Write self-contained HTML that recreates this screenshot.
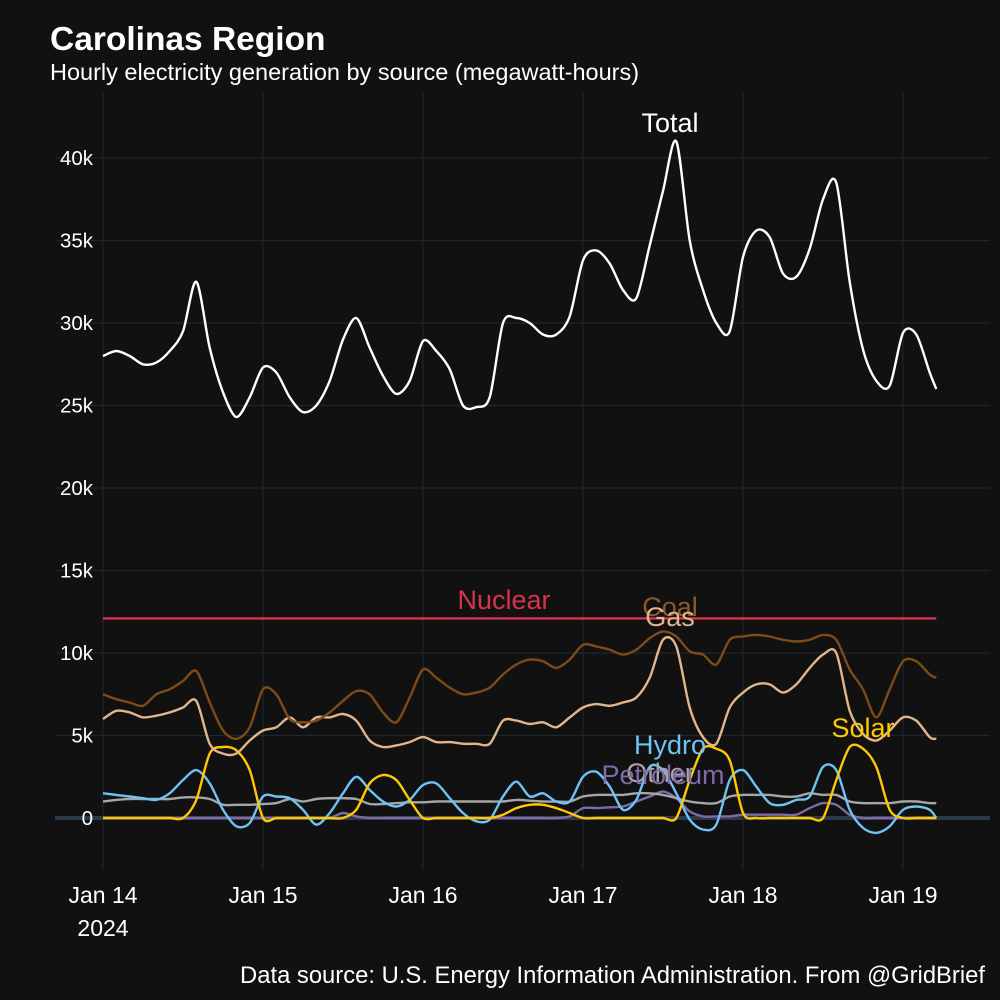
<!DOCTYPE html>
<html><head><meta charset="utf-8">
<style>
html,body{margin:0;padding:0;background:#111111;}
svg{display:block;font-family:"Liberation Sans",Arial,sans-serif;}
</style></head>
<body>
<svg id="chart" width="1000" height="1000" viewBox="0 0 1000 1000" xmlns="http://www.w3.org/2000/svg">
<rect x="0" y="0" width="1000" height="1000" fill="#111111"/>
<text x="50" y="50" fill="#ffffff" font-size="33.5" font-weight="bold">Carolinas Region</text>
<text x="50" y="80" fill="#ffffff" font-size="23.5">Hourly electricity generation by source (megawatt-hours)</text>
<g id="grid"></g>
<g id="series"></g>
<g id="labels"></g>
<text x="985" y="983" fill="#ffffff" font-size="23.8" text-anchor="end">Data source: U.S. Energy Information Administration. From @GridBrief</text>
</svg>
<script>
// hours since Jan 14 00:00, 2-hour steps
const hours = [0,2,4,6,8,10,12,14,16,18,20,22,24,26,28,30,32,34,36,38,40,42,44,46,48,50,52,54,56,58,60,62,64,66,68,70,72,74,76,78,80,82,84,86,88,90,92,94,96,98,100,102,104,106,108,110,112,114,116,118,120,122,124,125];
const total = [28000,28300,28000,27500,27600,28300,29500,32500,28500,25800,24300,25500,27300,27000,25500,24600,25000,26500,29000,30300,28500,26800,25700,26500,28900,28300,27200,25000,24900,25500,30000,30300,30000,29300,29300,30400,33800,34400,33600,32000,31500,34700,38000,41000,35000,32000,30000,29500,34000,35600,35200,33000,32800,34500,37500,38500,32500,28400,26500,26200,29400,29300,27000,26000];
const nuclear = [12100,12100,12100,12100,12100,12100,12100,12100,12100,12100,12100,12100,12100,12100,12100,12100,12100,12100,12100,12100,12100,12100,12100,12100,12100,12100,12100,12100,12100,12100,12100,12100,12100,12100,12100,12100,12100,12100,12100,12100,12100,12100,12100,12100,12100,12100,12100,12100,12100,12100,12100,12100,12100,12100,12100,12100,12100,12100,12100,12100,12100,12100,12100,12100];
const coal = [7500,7200,7000,6800,7500,7800,8300,8900,7000,5300,4800,5500,7800,7500,6000,5800,5900,6400,7100,7700,7500,6400,5800,7300,9000,8500,7900,7500,7600,7900,8700,9300,9600,9500,9100,9600,10500,10400,10200,9900,10200,10900,11300,11000,10100,9900,9300,10800,11000,11100,11000,10800,10700,10800,11100,10800,9000,7800,6100,7800,9500,9500,8700,8500];
const gas = [6000,6500,6400,6100,6200,6400,6700,7100,4500,3900,3900,4700,5300,5500,6100,5500,6100,6100,6300,5900,4700,4300,4400,4600,4900,4600,4600,4500,4500,4500,5900,5900,5700,5800,5500,6100,6700,6900,6800,7000,7300,8500,10800,10400,6700,4900,4500,6700,7600,8100,8100,7600,8100,9100,9900,10000,6500,5100,4700,5300,6100,5900,4900,4800];
const hydro = [1500,1400,1300,1200,1100,1500,2300,2900,2100,500,-500,-300,1300,1300,1200,500,-400,300,1500,2500,1700,1000,700,1100,2000,2100,1200,300,-200,-100,1300,2200,1300,1500,1000,1000,2500,2800,1900,500,1100,3100,2900,1500,-100,-700,-400,2300,2900,1900,900,800,1100,1300,3100,2900,500,-600,-900,-500,500,700,500,0];
const other = [1000,1100,1150,1150,1150,1150,1250,1250,1150,800,800,800,850,900,1150,1000,1150,1200,1200,1150,850,850,900,950,950,1000,1000,1000,1000,1000,1000,1100,1050,1000,1000,1000,1300,1400,1400,1400,1500,1500,1400,1200,1000,900,900,1300,1400,1400,1400,1300,1300,1500,1400,1400,1000,900,900,900,1000,1000,900,900];
const petroleum = [0,0,0,0,0,0,0,0,0,0,0,0,0,0,0,0,0,0,300,100,0,0,0,0,0,0,0,0,0,0,0,0,0,0,0,100,600,600,650,700,1000,1300,1600,1200,400,100,100,100,200,200,200,200,200,600,900,800,200,0,0,0,0,0,0,0];
const solar = [0,0,0,0,0,0,0,1100,3900,4300,4100,2900,0,0,0,0,0,0,0,500,2100,2600,2300,1100,0,0,0,0,0,0,200,600,800,800,600,300,0,0,0,0,0,0,0,0,2300,4200,4200,3500,300,0,0,0,0,0,0,2300,4300,4200,3100,500,0,0,0,0];
const yTicks = [0,5000,10000,15000,20000,25000,30000,35000,40000];
const yTickLabels = ["0","5k","10k","15k","20k","25k","30k","35k","40k"];
const xTickHours = [0,24,48,72,96,120];
const xTickLabels = ["Jan 14","Jan 15","Jan 16","Jan 17","Jan 18","Jan 19"];

const NS = "http://www.w3.org/2000/svg";
function xS(h){ return 103 + h * 160 / 24; }
function yS(v){ return 818 - v * 0.0165; }
function mk(tag, attrs, parent){
  const e = document.createElementNS(NS, tag);
  for (const k in attrs) e.setAttribute(k, attrs[k]);
  parent.appendChild(e);
  return e;
}
function smoothPath(pts){
  let d = 'M' + pts[0][0].toFixed(1) + ',' + pts[0][1].toFixed(1);
  for (let i = 0; i < pts.length - 1; i++){
    const p0 = pts[i - 1] || pts[i], p1 = pts[i], p2 = pts[i + 1], p3 = pts[i + 2] || p2;
    const t = 0.15;
    const c1x = p1[0] + (p2[0] - p0[0]) * t, c1y = p1[1] + (p2[1] - p0[1]) * t;
    const c2x = p2[0] - (p3[0] - p1[0]) * t, c2y = p2[1] - (p3[1] - p1[1]) * t;
    d += ' C' + c1x.toFixed(1) + ',' + c1y.toFixed(1) + ' ' + c2x.toFixed(1) + ',' + c2y.toFixed(1) + ' ' + p2[0].toFixed(1) + ',' + p2[1].toFixed(1);
  }
  return d;
}
const grid = document.getElementById('grid');
const series = document.getElementById('series');
const labels = document.getElementById('labels');

yTicks.forEach((v, i) => {
  const l = mk('line', {x1: 55, x2: 990, y1: yS(v), y2: yS(v), stroke: v === 0 ? '#2c3a48' : '#1e2631', 'stroke-width': v === 0 ? 4 : 1.2}, grid);
  
  
  const t = mk('text', {x: 93, y: yS(v) + 7, fill: '#ffffff', 'font-size': 20.5, 'text-anchor': 'end'}, grid);
  t.textContent = yTickLabels[i];
  
  
});
xTickHours.forEach((h, i) => {
  const l = mk('line', {x1: xS(h), x2: xS(h), y1: 92, y2: 870, stroke: '#1e2631', 'stroke-width': 1.2}, grid);
  
  
  const t = mk('text', {x: xS(h), y: 903, fill: '#ffffff', 'font-size': 23, 'text-anchor': 'middle'}, grid);
  t.textContent = xTickLabels[i];
  
  
});
const yr = mk('text', {x: xS(0), y: 936, fill: '#ffffff', 'font-size': 23, 'text-anchor': 'middle'}, grid);
yr.textContent = '2024';



const defs = [
  ['petroleum', petroleum, '#7e6aa6'],
  ['other', other, '#a6a6a6'],
  ['hydro', hydro, '#6ec3f4'],
  ['solar', solar, '#ffc802'],
  ['gas', gas, '#e2b68c'],
  ['coal', coal, '#7d4b18'],
  ['nuclear', nuclear, '#d6344e'],
  ['total', total, '#ffffff']
];
defs.forEach(d => {
  const pts = d[1].map((v, i) => [xS(hours[i]), yS(v)]);
  const p = mk('path', {d: smoothPath(pts), fill: 'none', stroke: d[2], 'stroke-width': 2.4, 'stroke-linejoin': 'round'}, series);
  
  
});

const lab = [
  ['Total', 670, 132, '#ffffff'],
  ['Nuclear', 504, 609, '#d6344e'],
  ['Coal', 670, 616, '#8a5a2a'],
  ['Gas', 670, 626, '#e2b68c'],
  ['Hydro', 670, 754, '#6ec3f4'],
  ['Other', 660, 782, '#a6a6a6'],
  ['Petroleum', 663, 784, '#7e6aa6'],
  ['Solar', 863, 737, '#ffc802']
];
lab.forEach(a => {
  const t = mk('text', {x: a[1], y: a[2], fill: a[3], 'font-size': 27, 'text-anchor': 'middle'}, labels);
  t.textContent = a[0];
  
  
});
</script>
</body></html>
